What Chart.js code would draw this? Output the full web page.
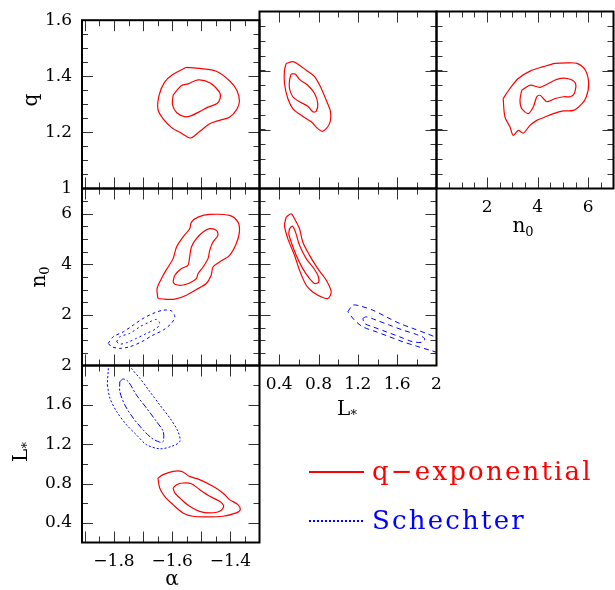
<!DOCTYPE html>
<html>
<head>
<meta charset="utf-8">
<script src="https://cdn.jsdelivr.net/npm/chart.js@4.4.0/dist/chart.umd.min.js"></script>
<style>
  body { margin: 0; background: #fff; }
  #wrap { position: relative; width: 615px; height: 590px; overflow: hidden; }
  #wrap canvas { position: absolute; left: 0; top: 0; }
  .lbl { position: absolute; font-family: "DejaVu Serif", serif; font-size: 20px; line-height: 1; color: #000; white-space: nowrap; transform: translate(-50%, -50%); }
  .lbl.rot { transform: translate(-50%, -50%) rotate(-90deg); }
  .lbl sub { font-size: 13px; vertical-align: -4px; line-height: 0; }
  .key-line { position: absolute; left: 309px; width: 55px; height: 1.5px; }
  .key-text { position: absolute; left: 372px; font-family: "DejaVu Serif", serif; font-size: 26px; line-height: 26px; letter-spacing: 2.2px; white-space: nowrap; }
</style>
</head>
<body>
<div id="wrap">
  <canvas id="pAQ" width="615" height="590"></canvas>
  <canvas id="pLQ" width="615" height="590"></canvas>
  <canvas id="pNQ" width="615" height="590"></canvas>
  <canvas id="pAN" width="615" height="590"></canvas>
  <canvas id="pLN" width="615" height="590"></canvas>
  <canvas id="pAL" width="615" height="590"></canvas>

  <div class="lbl rot" style="left:30px;top:100px">q</div>
  <div class="lbl rot" style="left:38px;top:277px">n<sub>0</sub></div>
  <div class="lbl rot" style="left:20px;top:452px">L<sub>*</sub></div>
  <div class="lbl" style="left:172px;top:578px">α</div>
  <div class="lbl" style="left:347px;top:408px">L<sub>*</sub></div>
  <div class="lbl" style="left:523px;top:225px">n<sub>0</sub></div>

  <div class="key-line" style="top:471px;background:#f00"></div>
  <div class="key-text" style="top:458px;color:#f00">q−exponential</div>
  <div class="key-line" style="top:520px;background:repeating-linear-gradient(90deg,#00f 0 2px,transparent 2px 4px)"></div>
  <div class="key-text" style="top:507px;color:#00f">Schechter</div>
</div>
<script>
// axis ranges and labelled ticks
const alphaRange = [-1.91, -1.30];
const qRange = [1.0, 1.6];
const n0Range = [0, 7];
const lRange = [0.2, 2.0];

const alphaTicks = [-1.8, -1.6, -1.4];
const qTicks = [1, 1.2, 1.4, 1.6];
const n0Ticks = [2, 4, 6];
const lTicks = [0.4, 0.8, 1.2, 1.6, 2];

// [major, minor] tick spacing
const alphaSteps = [0.1, 0.05];
const qSteps = [0.2, 0.05];
const n0Steps = [2, 0.5];
const lSteps = [0.4, 0.2];

// confidence contours, [x, y] pairs (q-exponential = red, Schechter = blue)
const aqOuter = [[-1.551,1.432],[-1.506,1.428],[-1.448,1.418],[-1.403,1.384],[-1.378,1.350],[-1.369,1.311],[-1.378,1.282],[-1.403,1.254],[-1.437,1.243],[-1.471,1.231],[-1.506,1.203],[-1.537,1.180],[-1.568,1.197],[-1.603,1.218],[-1.631,1.248],[-1.649,1.282],[-1.645,1.333],[-1.626,1.379],[-1.597,1.407]];
const aqInner = [[-1.597,1.333],[-1.568,1.367],[-1.546,1.373],[-1.511,1.387],[-1.471,1.377],[-1.437,1.343],[-1.435,1.322],[-1.446,1.303],[-1.477,1.290],[-1.506,1.274],[-1.534,1.260],[-1.557,1.256],[-1.585,1.271],[-1.599,1.299]];

const lqOuter = [[0.472,1.424],[0.539,1.430],[0.607,1.418],[0.675,1.401],[0.760,1.379],[0.828,1.339],[0.879,1.299],[0.922,1.260],[0.912,1.220],[0.844,1.194],[0.793,1.203],[0.726,1.226],[0.624,1.248],[0.539,1.271],[0.488,1.305],[0.454,1.356],[0.454,1.401]];
const lqInner = [[0.522,1.388],[0.563,1.388],[0.607,1.370],[0.691,1.350],[0.760,1.322],[0.793,1.288],[0.777,1.262],[0.742,1.260],[0.691,1.279],[0.607,1.294],[0.539,1.311],[0.505,1.339],[0.505,1.367]];

const nqOuter = [[2.637,1.305],[2.904,1.339],[3.234,1.373],[3.699,1.398],[4.228,1.413],[4.694,1.424],[5.159,1.426],[5.557,1.424],[5.887,1.401],[6.018,1.356],[5.927,1.311],[5.756,1.288],[5.422,1.265],[5.024,1.263],[4.626,1.254],[4.228,1.240],[3.966,1.231],[3.699,1.214],[3.433,1.188],[3.234,1.197],[3.035,1.180],[2.904,1.209],[2.705,1.243]];
const nqInner = [[3.369,1.333],[3.699,1.350],[4.097,1.343],[4.427,1.356],[4.761,1.370],[5.159,1.373],[5.489,1.358],[5.449,1.322],[5.290,1.311],[5.024,1.311],[4.694,1.305],[4.364,1.294],[4.228,1.305],[4.097,1.316],[3.966,1.311],[3.831,1.277],[3.632,1.254],[3.369,1.271],[3.302,1.299]];

const anOuter = [[-1.649,2.650],[-1.652,3.044],[-1.631,3.569],[-1.614,3.896],[-1.597,4.227],[-1.585,4.685],[-1.563,5.079],[-1.540,5.410],[-1.534,5.670],[-1.511,5.868],[-1.471,5.974],[-1.403,5.935],[-1.374,5.670],[-1.369,5.276],[-1.380,4.819],[-1.403,4.357],[-1.437,4.093],[-1.460,3.896],[-1.466,3.569],[-1.483,3.241],[-1.517,3.005],[-1.551,2.780],[-1.591,2.622],[-1.626,2.622]];
const anInner = [[-1.597,3.304],[-1.591,3.569],[-1.568,3.833],[-1.546,3.963],[-1.540,4.290],[-1.534,4.685],[-1.517,5.016],[-1.494,5.276],[-1.471,5.410],[-1.448,5.343],[-1.443,5.146],[-1.460,4.882],[-1.471,4.554],[-1.477,4.227],[-1.494,3.896],[-1.511,3.636],[-1.517,3.438],[-1.540,3.265],[-1.568,3.174],[-1.591,3.214]];
const anSchOuter = [[-1.820,0.875],[-1.803,1.136],[-1.768,1.333],[-1.734,1.597],[-1.700,1.861],[-1.666,2.058],[-1.631,2.188],[-1.603,2.161],[-1.591,1.924],[-1.603,1.664],[-1.631,1.400],[-1.666,1.203],[-1.705,0.938],[-1.746,0.741],[-1.780,0.678],[-1.808,0.741]];
const anSchInner = [[-1.791,0.938],[-1.780,1.136],[-1.746,1.270],[-1.711,1.530],[-1.677,1.727],[-1.654,1.822],[-1.643,1.664],[-1.654,1.467],[-1.688,1.270],[-1.723,1.073],[-1.757,0.899],[-1.780,0.848]];

const lnOuter = [[0.472,5.868],[0.522,6.002],[0.556,5.804],[0.607,5.410],[0.640,4.882],[0.709,4.357],[0.793,3.833],[0.879,3.371],[0.929,2.910],[0.895,2.650],[0.828,2.713],[0.742,2.910],[0.675,3.174],[0.607,3.766],[0.556,4.357],[0.488,5.016],[0.454,5.540]];
const lnInner = [[0.505,5.410],[0.533,5.513],[0.566,5.276],[0.607,4.752],[0.675,4.227],[0.742,3.896],[0.793,3.569],[0.803,3.304],[0.760,3.241],[0.709,3.438],[0.640,3.833],[0.573,4.357],[0.522,4.882],[0.498,5.213]];
const lnSchOuter = [[1.098,2.121],[1.149,2.386],[1.217,2.358],[1.353,2.188],[1.489,1.924],[1.624,1.664],[1.760,1.467],[1.896,1.270],[1.980,1.136],[2.031,1.006],[2.031,0.532],[1.929,0.611],[1.794,0.769],[1.658,0.938],[1.522,1.136],[1.387,1.333],[1.251,1.530],[1.166,1.794]];
const lnSchInner = [[1.251,1.861],[1.285,1.924],[1.387,1.794],[1.522,1.597],[1.658,1.400],[1.794,1.230],[1.879,1.073],[1.861,0.927],[1.760,0.938],[1.624,1.136],[1.489,1.333],[1.353,1.530],[1.268,1.664]];

const alOuter = [[-1.649,0.856],[-1.631,0.890],[-1.597,0.923],[-1.568,0.923],[-1.540,0.872],[-1.506,0.839],[-1.460,0.771],[-1.426,0.704],[-1.403,0.636],[-1.374,0.585],[-1.366,0.535],[-1.380,0.501],[-1.426,0.467],[-1.483,0.461],[-1.529,0.467],[-1.563,0.501],[-1.597,0.585],[-1.626,0.670],[-1.643,0.755]];
const alInner = [[-1.597,0.755],[-1.585,0.788],[-1.563,0.805],[-1.534,0.798],[-1.506,0.738],[-1.471,0.670],[-1.437,0.619],[-1.423,0.568],[-1.437,0.517],[-1.471,0.501],[-1.506,0.517],[-1.540,0.568],[-1.568,0.636],[-1.591,0.704]];
const alSchOuter = [[-1.823,1.802],[-1.814,1.668],[-1.791,1.532],[-1.757,1.397],[-1.723,1.295],[-1.688,1.194],[-1.643,1.153],[-1.603,1.177],[-1.574,1.227],[-1.580,1.329],[-1.608,1.465],[-1.643,1.600],[-1.677,1.735],[-1.711,1.870],[-1.740,1.972],[-1.752,2.056],[-1.814,2.076],[-1.820,1.937]];
const alSchInner = [[-1.780,1.836],[-1.768,1.863],[-1.751,1.836],[-1.723,1.701],[-1.688,1.566],[-1.654,1.430],[-1.631,1.329],[-1.631,1.227],[-1.643,1.221],[-1.671,1.262],[-1.700,1.346],[-1.734,1.465],[-1.763,1.600],[-1.780,1.735]];

const RED = "#ff0000";
const BLUE = "#0000ff";

// panel grid edges in the page
const colEdges = [82, 259.5, 436.5, 613.5];
const rowEdges = [11.5, 188.5, 365.5, 542.5];

function contour(points, color, dash, width) {
  const data = points.map(([x, y]) => ({ x: x, y: y }));
  data.push(data[0]); // close the loop
  return {
    data: data,
    showLine: true,
    borderColor: color,
    borderWidth: width || 1.2,
    borderDash: dash || [],
    pointRadius: 0,
    tension: 0.3,
    fill: false,
  };
}

function axis(range, labels, steps, showLabels, pos, size) {
  return {
    type: "linear",
    position: pos,
    min: range[0],
    max: range[1],
    steps: steps,
    grid: { display: false, drawTicks: false },
    border: { display: false },
    ticks: {
      display: showLabels,
      autoSkip: false,
      maxRotation: 0,
      padding: pos === "left" ? 10 : 9,
      color: "#000",
      font: { family: "DejaVu Serif", size: 17 },
      callback: (v) => String(v).replace("-", "\u2212"),
    },
    afterBuildTicks: (s) => {
      s.ticks = labels.map((v) => ({ value: v }));
    },
    afterFit: (s) => {
      if (pos === "left") s.width = size;
      else s.height = size;
    },
  };
}

// inward ticks on all four sides plus the panel frame
const frameTicks = {
  id: "frameTicks",
  afterDatasetsDraw(chart) {
    const { ctx, chartArea: a } = chart;
    const sx = chart.scales.x;
    const sy = chart.scales.y;
    ctx.save();
    ctx.strokeStyle = "#333";
    ctx.lineWidth = 1;

    function each(scale, step, fn) {
      const start = Math.ceil(scale.min / step - 1e-6) * step;
      for (let v = start; v <= scale.max + 1e-6; v += step) fn(scale.getPixelForValue(v));
    }
    function tick(x1, y1, x2, y2) {
      ctx.beginPath();
      ctx.moveTo(x1, y1);
      ctx.lineTo(x2, y2);
      ctx.stroke();
    }
    [[sx.options.steps[0], 11], [sx.options.steps[1], 6]].forEach(([step, len]) => {
      each(sx, step, (px) => {
        if (px < a.left + 1 || px > a.right - 1) return;
        px = Math.round(px) + 0.5;
        tick(px, a.bottom, px, a.bottom - len);
        tick(px, a.top, px, a.top + len);
      });
    });
    [[sy.options.steps[0], 11], [sy.options.steps[1], 6]].forEach(([step, len]) => {
      each(sy, step, (py) => {
        if (py < a.top + 1 || py > a.bottom - 1) return;
        py = Math.round(py) + 0.5;
        tick(a.left, py, a.left + len, py);
        tick(a.right, py, a.right - len, py);
      });
    });

    ctx.strokeStyle = "#000";
    ctx.lineWidth = 2;
    ctx.strokeRect(a.left, a.top, a.right - a.left, a.bottom - a.top);
    ctx.restore();
  },
};

function panel(id, col, row, xa, ya, datasets) {
  new Chart(document.getElementById(id), {
    type: "scatter",
    data: { datasets: datasets },
    options: {
      responsive: false,
      animation: false,
      devicePixelRatio: 1,
      layout: {
        autoPadding: false,
        padding: { left: 0, bottom: 0, top: rowEdges[row], right: 615 - colEdges[col + 1] },
      },
      plugins: { legend: { display: false }, tooltip: { enabled: false } },
      scales: {
        x: axis(xa.range, xa.labels, xa.steps, xa.show, "bottom", 590 - rowEdges[row + 1]),
        y: axis(ya.range, ya.labels, ya.steps, ya.show, "left", colEdges[col]),
      },
    },
    plugins: [frameTicks],
  });
}

const ax = (range, labels, steps, show) => ({ range, labels, steps, show });

panel("pAQ", 0, 0, ax(alphaRange, alphaTicks, alphaSteps, false), ax(qRange, qTicks, qSteps, true), [
  contour(aqOuter, RED), contour(aqInner, RED),
]);
panel("pLQ", 1, 0, ax(lRange, lTicks, lSteps, false), ax(qRange, qTicks, qSteps, false), [
  contour(lqOuter, RED), contour(lqInner, RED),
]);
panel("pNQ", 2, 0, ax(n0Range, n0Ticks, n0Steps, true), ax(qRange, qTicks, qSteps, false), [
  contour(nqOuter, RED), contour(nqInner, RED),
]);
panel("pAN", 0, 1, ax(alphaRange, alphaTicks, alphaSteps, false), ax(n0Range, n0Ticks, n0Steps, true), [
  contour(anOuter, RED), contour(anInner, RED),
  contour(anSchOuter, BLUE, [3, 3], 1), contour(anSchInner, BLUE, [2, 3], 1),
]);
panel("pLN", 1, 1, ax(lRange, lTicks, lSteps, true), ax(n0Range, n0Ticks, n0Steps, false), [
  contour(lnOuter, RED), contour(lnInner, RED),
  contour(lnSchOuter, BLUE, [5, 4], 1), contour(lnSchInner, BLUE, [5, 4], 1),
]);
panel("pAL", 0, 2, ax(alphaRange, alphaTicks, alphaSteps, true), ax(lRange, lTicks, lSteps, true), [
  contour(alOuter, RED), contour(alInner, RED),
  contour(alSchOuter, BLUE, [2, 2], 1), contour(alSchInner, BLUE, [6, 2, 2, 2], 1),
]);
</script>
</body>
</html>
